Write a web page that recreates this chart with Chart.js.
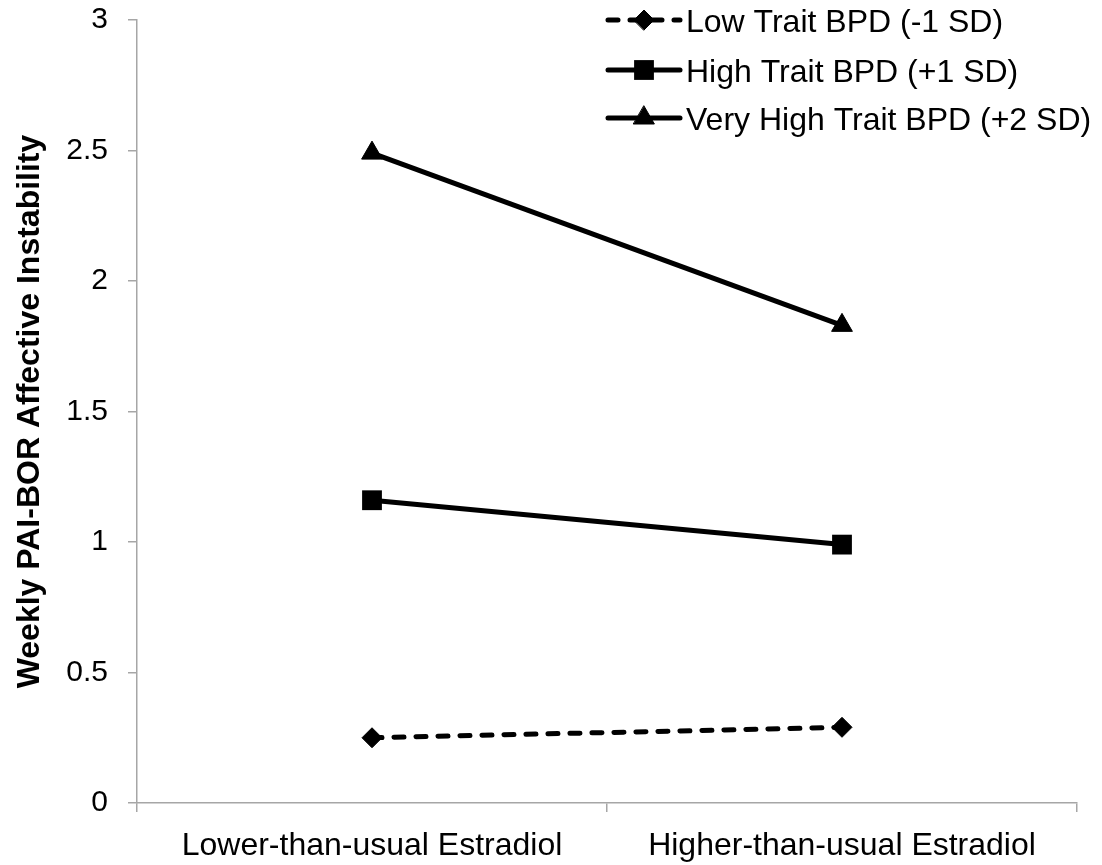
<!DOCTYPE html>
<html>
<head>
<meta charset="utf-8">
<script src="https://cdn.jsdelivr.net/npm/chart.js@4/dist/chart.umd.min.js"></script>
<style>
  html, body { margin: 0; padding: 0; background: #ffffff; }
  #wrap { width: 1102px; height: 865px; position: relative; }
</style>
</head>
<body>
<div id="wrap"><canvas id="c" width="1102" height="865"></canvas></div>
<script>
const categories = ['Lower-than-usual Estradiol', 'Higher-than-usual Estradiol'];
const seriesNames = ['Low Trait BPD (-1 SD)', 'High Trait BPD (+1 SD)', 'Very High Trait BPD (+2 SD)'];
const lowTrait = [0.25, 0.29];
const highTrait = [1.16, 0.99];
const veryHighTrait = [2.49, 1.83];
const yTicks = [0, 0.5, 1, 1.5, 2, 2.5, 3];
const yTitle = 'Weekly PAI-BOR Affective Instability';

const FONT = '"Liberation Sans", Arial, Helvetica, sans-serif';
const AXIS = '#a6a6a6';

const legendPlugin = {
  id: 'customLegend',
  afterDraw(chart) {
    const ctx = chart.ctx;
    const rows = [20, 70, 118];
    const x0 = 608, x1 = 680, xm = 644, tx = 686;
    chart.data.datasets.forEach((ds, i) => {
      const y = rows[i];
      ctx.save();
      ctx.strokeStyle = ds.borderColor;
      ctx.lineWidth = ds.borderWidth;
      ctx.lineCap = 'round';
      ctx.setLineDash(ds.borderDash || []);
      ctx.beginPath();
      ctx.moveTo(x0, y);
      ctx.lineTo(x1, y);
      ctx.stroke();
      ctx.setLineDash([]);
      const opts = {
        pointStyle: ds.pointStyle,
        radius: ds.pointRadius,
        rotation: 0,
        borderWidth: ds.pointBorderWidth
      };
      ctx.fillStyle = ds.pointBackgroundColor;
      ctx.strokeStyle = ds.pointBorderColor;
      ctx.lineWidth = ds.pointBorderWidth;
      if (Chart.helpers && Chart.helpers.drawPoint) {
        Chart.helpers.drawPoint(ctx, opts, xm, y);
      }
      ctx.fillStyle = '#000000';
      ctx.font = '32px ' + FONT;
      ctx.textAlign = 'left';
      ctx.textBaseline = 'middle';
      ctx.fillText(ds.label, tx, y + 3);
      ctx.restore();
    });
  }
};

new Chart(document.getElementById('c'), {
  type: 'line',
  data: {
    labels: categories,
    datasets: [
      {
        label: seriesNames[0],
        data: lowTrait,
        borderColor: '#000000',
        backgroundColor: '#000000',
        borderWidth: 5,
        borderDash: [10, 12],
        borderCapStyle: 'round',
        pointStyle: 'rectRot',
        pointRadius: 10,
        pointBackgroundColor: '#000000',
        pointBorderColor: '#000000',
        pointBorderWidth: 1,
        tension: 0
      },
      {
        label: seriesNames[1],
        data: highTrait,
        borderColor: '#000000',
        backgroundColor: '#000000',
        borderWidth: 5,
        pointStyle: 'rect',
        pointRadius: 14,
        pointBackgroundColor: '#000000',
        pointBorderColor: '#000000',
        pointBorderWidth: 0,
        tension: 0
      },
      {
        label: seriesNames[2],
        data: veryHighTrait,
        borderColor: '#000000',
        backgroundColor: '#000000',
        borderWidth: 5,
        pointStyle: 'triangle',
        pointRadius: 12,
        pointBackgroundColor: '#000000',
        pointBorderColor: '#000000',
        pointBorderWidth: 1,
        tension: 0
      }
    ]
  },
  options: {
    responsive: false,
    animation: false,
    devicePixelRatio: 1,
    layout: { padding: { top: 20, right: 25, left: 0, bottom: 0 } },
    plugins: {
      legend: { display: false },
      tooltip: { enabled: false }
    },
    scales: {
      x: {
        type: 'category',
        offset: true,
        grid: {
          offset: true,
          drawOnChartArea: false,
          drawTicks: true,
          tickLength: 9,
          color: AXIS,
          lineWidth: 1.5
        },
        border: { display: true, color: AXIS, width: 1.5 },
        ticks: {
          color: '#000000',
          font: { family: FONT, size: 32 },
          padding: 15,
          maxRotation: 0,
          autoSkip: false
        },
        afterFit(scale) {
          scale.height = 62;
          scale.paddingLeft = 0;
          scale.paddingRight = 0;
        }
      },
      y: {
        min: 0,
        max: 3,
        afterBuildTicks(scale) { scale.ticks = yTicks.map(v => ({ value: v })); },
        grid: {
          drawOnChartArea: false,
          drawTicks: true,
          tickLength: 9,
          color: AXIS,
          lineWidth: 1.5
        },
        border: { display: true, color: AXIS, width: 1.5 },
        ticks: {
          color: '#000000',
          font: { family: FONT, size: 30 },
          padding: 20,
          callback: (v) => String(v)
        },
        title: {
          display: true,
          text: yTitle,
          color: '#000000',
          font: { family: FONT, size: 32, weight: 'bold' },
          padding: { top: 11, bottom: 0 }
        },
        afterFit(scale) {
          scale.width = 137;
          scale.paddingTop = 0;
          scale.paddingBottom = 0;
        }
      }
    }
  },
  plugins: [legendPlugin]
});
</script>
</body>
</html>
